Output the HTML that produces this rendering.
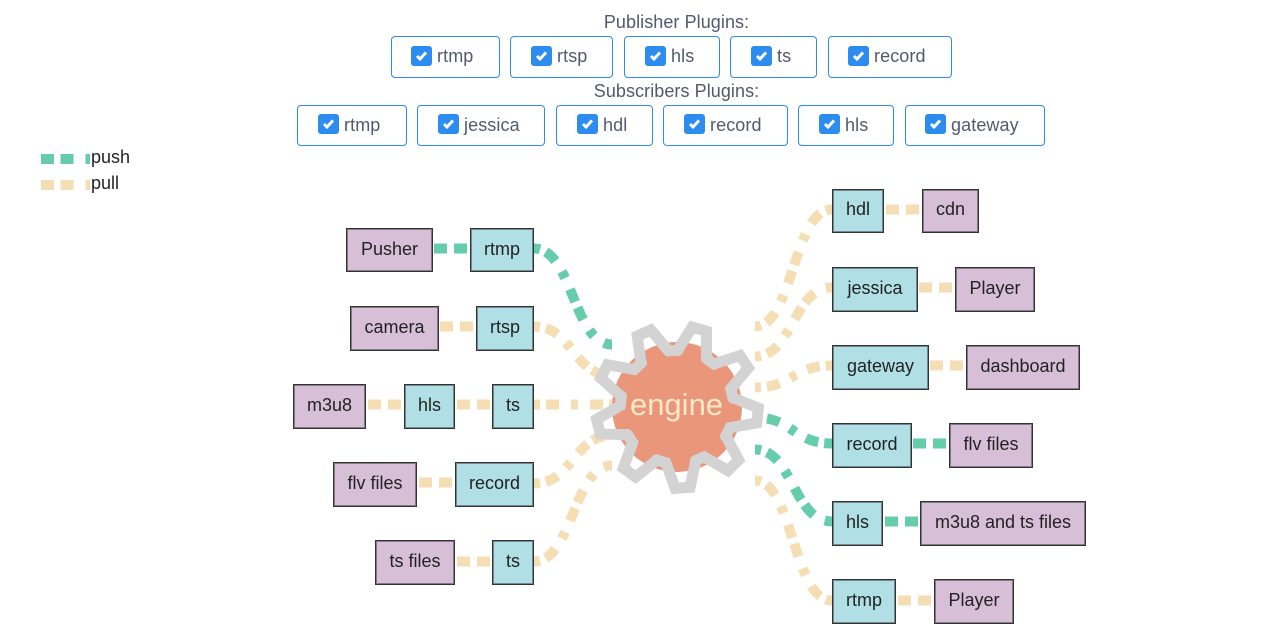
<!DOCTYPE html>
<html><head><meta charset="utf-8">
<style>
html,body{margin:0;padding:0;background:#fff;width:1268px;height:643px;overflow:hidden;font-family:"Liberation Sans",sans-serif}
.c{position:absolute;box-sizing:border-box;border:1px solid #2d8cf0;border-radius:4px;color:#515a6e;font-size:18px;letter-spacing:.1px}
.c span{position:absolute;top:50%;transform:translateY(-50%);margin-top:-1px;line-height:24px;white-space:nowrap}
.c svg{position:absolute}
.h{position:absolute;left:0;width:1353px;text-align:center;color:#515a6e;font-size:18px;line-height:24px;letter-spacing:.07px}
.n{position:absolute;box-sizing:border-box;border:1px solid #333;box-shadow:inset 0 0 0 1px rgba(51,51,51,.5);font-size:18px;color:#222;text-align:center;white-space:nowrap;padding-bottom:3px;display:flex;align-items:center;justify-content:center}
.n.u{padding-bottom:1px}
.b{background:#b0e0e6}.p{background:#d8bfd8}
.l{position:absolute;left:91px;font-size:18px;color:#222;line-height:22px}
svg.d{position:absolute;left:0;top:0}
.e{stroke-dasharray:13 12 7 12 13 6;stroke-dashoffset:51;fill:none;stroke-width:10}
.s{stroke-dasharray:13 7;fill:none;stroke-width:10}
.g{stroke:#66cdaa}.w{stroke:#f5deb3}
</style></head><body>
<svg width="0" height="0" style="position:absolute"><defs><g id="k"><rect width="21" height="20" rx="3" fill="#2d8cf0"/><path d="M6 10l3 3 6-6.5" fill="none" stroke="#fff" stroke-width="3"/></g></defs></svg>

<div class="h" style="top:10px">Publisher Plugins:</div>
<div class="c" style="left:391px;top:36px;width:109px;height:42px"><svg width="21" height="20" style="left:19px;top:9px"><use href="#k"/></svg><span style="left:45px">rtmp</span></div>
<div class="c" style="left:510px;top:36px;width:103px;height:42px"><svg width="21" height="20" style="left:20px;top:9px"><use href="#k"/></svg><span style="left:46px">rtsp</span></div>
<div class="c" style="left:624px;top:36px;width:96px;height:42px"><svg width="21" height="20" style="left:20px;top:9px"><use href="#k"/></svg><span style="left:46px">hls</span></div>
<div class="c" style="left:730px;top:36px;width:87px;height:42px"><svg width="21" height="20" style="left:20px;top:9px"><use href="#k"/></svg><span style="left:46px">ts</span></div>
<div class="c" style="left:828px;top:36px;width:124px;height:42px"><svg width="21" height="20" style="left:19px;top:9px"><use href="#k"/></svg><span style="left:45px">record</span></div>

<div class="h" style="top:79px">Subscribers Plugins:</div>
<div class="c" style="left:297px;top:105px;width:110px;height:41px"><svg width="21" height="20" style="left:20px;top:8px"><use href="#k"/></svg><span style="left:46px">rtmp</span></div>
<div class="c" style="left:417px;top:105px;width:128px;height:41px"><svg width="21" height="20" style="left:20px;top:8px"><use href="#k"/></svg><span style="left:46px">jessica</span></div>
<div class="c" style="left:556px;top:105px;width:97px;height:41px"><svg width="21" height="20" style="left:20px;top:8px"><use href="#k"/></svg><span style="left:46px">hdl</span></div>
<div class="c" style="left:663px;top:105px;width:125px;height:41px"><svg width="21" height="20" style="left:20px;top:8px"><use href="#k"/></svg><span style="left:46px">record</span></div>
<div class="c" style="left:798px;top:105px;width:96px;height:41px"><svg width="21" height="20" style="left:20px;top:8px"><use href="#k"/></svg><span style="left:46px">hls</span></div>
<div class="c" style="left:905px;top:105px;width:140px;height:41px"><svg width="21" height="20" style="left:19px;top:8px"><use href="#k"/></svg><span style="left:45px">gateway</span></div>

<svg class="d" width="1268" height="643">
<path fill="none" stroke="#66cdaa" stroke-width="10" stroke-dasharray="13 6.5 13 12 7" d="M41 159H90"/>
<path fill="none" stroke="#f5deb3" stroke-width="10" stroke-dasharray="13 6.5 13 12 7" d="M41 185H90"/>

<g transform="translate(0 .5)">
<path class="s g" d="M434 248H471"/>
<path class="s w" d="M440 326H477"/>
<path class="s w" d="M368 404H405"/>
<path class="s w" d="M457 404H493"/>
<path class="s w" d="M419 482H455"/>
<path class="s w" d="M457 561H493"/>
<path class="s w" d="M886 209H923"/>
<path class="s w" d="M919 287H956"/>
<path class="s w" d="M930 365H967"/>
<path class="s g" d="M913 443H950"/>
<path class="s g" d="M885 521H921"/>
<path class="s w" d="M898 600H935"/>

<path class="e g" pathLength="127" d="M534 248C573 248 573 344 612 344"/>
<path class="e w" d="M534 326C573 326 573 375 612 375"/>
<path class="e w" d="M534 404H612"/>
<path class="e w" d="M534 483C573 483 573 435 612 435"/>
<path class="e w" pathLength="127" d="M534 561C573 561 573 465 612 465"/>

<path class="e w" pathLength="144" d="M755 326C793 326 793 209 832 209"/>
<path class="e w" pathLength="106" d="M755 356C793 356 793 287 832 287"/>
<path class="e w" d="M755 387C793 387 793 365 832 365"/>
<path class="e g" d="M755 417C793 417 793 443 832 443"/>
<path class="e g" pathLength="107" d="M755 449C793 449 793 521 832 521"/>
<path class="e w" pathLength="144" d="M755 480C793 480 793 600 832 600"/>
</g>

<circle cx="677" cy="407" r="65" fill="#e9967a"/>
<g transform="translate(677 407) rotate(6)" fill="none" stroke="#d3d3d3" stroke-width="11" stroke-linejoin="miter" stroke-linecap="round">
<g id="tooth"><polyline points="54.8,-15 81,-7.5 81,7.5 54.8,15 51.3,24.1"/></g>
<use href="#tooth" transform="rotate(40)"/>
<use href="#tooth" transform="rotate(80)"/>
<use href="#tooth" transform="rotate(120)"/>
<use href="#tooth" transform="rotate(160)"/>
<use href="#tooth" transform="rotate(200)"/>
<use href="#tooth" transform="rotate(240)"/>
<use href="#tooth" transform="rotate(280)"/>
<use href="#tooth" transform="rotate(320)"/>
</g>
<text x="676.5" y="415" text-anchor="middle" font-family="Liberation Sans" font-size="31" fill="#ffe8c8">engine</text>
</svg>

<div class="l" style="top:146px">push</div>
<div class="l" style="top:172px">pull</div>

<div class="n u p" style="left:346px;top:228px;width:87px;height:44px">Pusher</div>
<div class="n u b" style="left:470px;top:228px;width:64px;height:44px">rtmp</div>
<div class="n p" style="left:350px;top:306px;width:89px;height:45px">camera</div>
<div class="n b" style="left:476px;top:306px;width:58px;height:45px">rtsp</div>
<div class="n p" style="left:293px;top:384px;width:73px;height:45px">m3u8</div>
<div class="n b" style="left:404px;top:384px;width:51px;height:45px">hls</div>
<div class="n b" style="left:492px;top:384px;width:42px;height:45px">ts</div>
<div class="n p" style="left:333px;top:462px;width:84px;height:45px">flv files</div>
<div class="n b" style="left:455px;top:462px;width:79px;height:45px">record</div>
<div class="n p" style="left:375px;top:540px;width:80px;height:45px">ts files</div>
<div class="n b" style="left:492px;top:540px;width:42px;height:45px">ts</div>

<div class="n b" style="left:832px;top:189px;width:52px;height:44px">hdl</div>
<div class="n p" style="left:922px;top:189px;width:57px;height:44px">cdn</div>
<div class="n b" style="left:832px;top:267px;width:86px;height:45px">jessica</div>
<div class="n p" style="left:955px;top:267px;width:80px;height:45px">Player</div>
<div class="n b" style="left:832px;top:345px;width:97px;height:45px">gateway</div>
<div class="n p" style="left:966px;top:345px;width:114px;height:45px">dashboard</div>
<div class="n b" style="left:832px;top:423px;width:80px;height:45px">record</div>
<div class="n p" style="left:949px;top:423px;width:84px;height:45px">flv files</div>
<div class="n b" style="left:832px;top:501px;width:51px;height:45px">hls</div>
<div class="n p" style="left:920px;top:501px;width:166px;height:45px">m3u8 and ts files</div>
<div class="n b" style="left:832px;top:579px;width:64px;height:45px">rtmp</div>
<div class="n p" style="left:934px;top:579px;width:80px;height:45px">Player</div>
</body></html>
